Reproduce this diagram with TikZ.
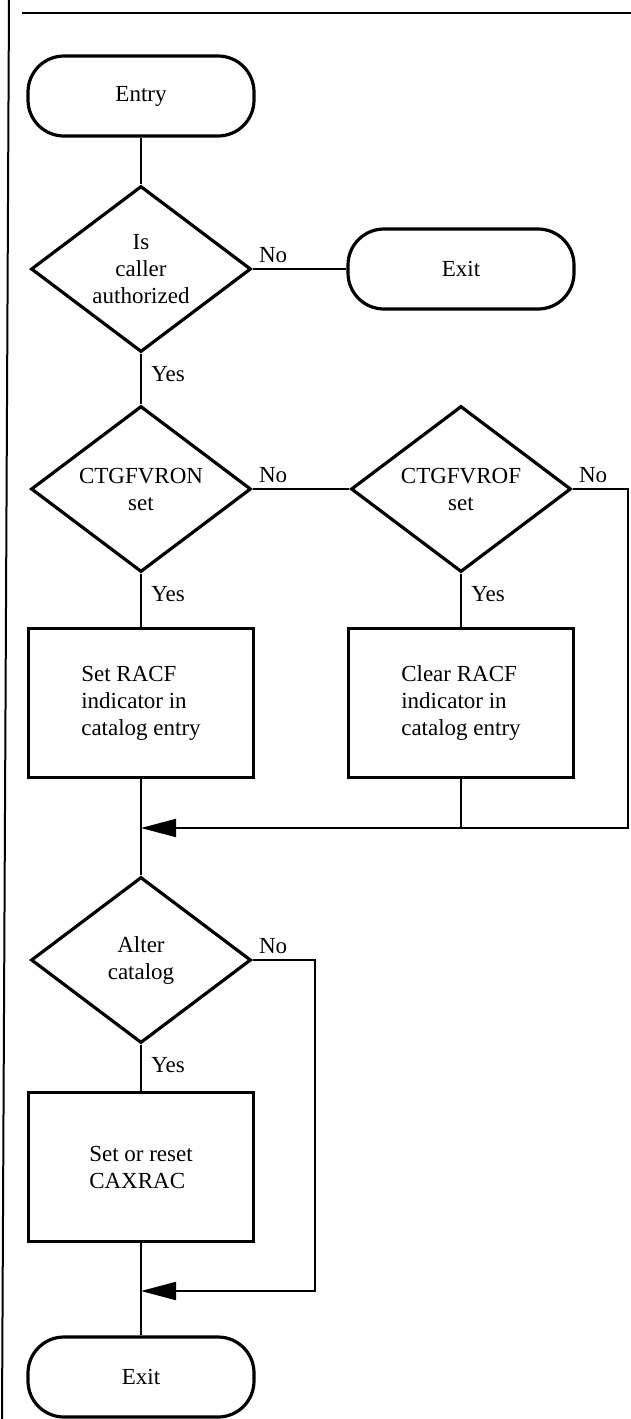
\documentclass[tikz,border=0pt]{standalone}
\usepackage{fontspec}
\setmainfont{Liberation Serif}
\usetikzlibrary{arrows.meta,shapes.geometric}

\begin{document}
\begin{tikzpicture}[x=0.5pt, y=-0.5pt,
		every node/.style={font=\fontsize{11.5}{13.5}\selectfont},
		term/.style={draw, line width=1.6pt, rounded corners=18pt, minimum width=113pt, minimum height=40pt},
		decision/.style={draw, diamond, aspect=1.3, inner sep=0pt, line width=1.6pt, minimum width=110pt, minimum height=83pt, align=center},
		process/.style={draw, line width=1.6pt, minimum width=112.5pt, minimum height=74.5pt, align=left},
		lbl/.style={inner sep=3pt},
		flow/.style={line width=1pt},
		backflow/.style={flow, -{Triangle[length=17.5pt, width=9pt]}}]
			\useasboundingbox (0,0) rectangle (631,1419);

			% page frame
			\draw[line width=1pt] (9,0) -- (2,1419);
			\draw[line width=1pt] (22,13) -- (631,13);

			\node[term]     (entry) at (141,   96)  {Entry};
			\node[decision] (q1)    at (141,  269)  {Is\\caller\\authorized};
			\node[term]     (exit1) at (461,  269)  {Exit};
			\node[decision] (q2)    at (141,  489)  {CTGFVRON\\set};
			\node[decision] (q3)    at (461,  489)  {CTGFVROF\\set};
			\node[process]  (set)   at (141,  703)  {Set RACF\\indicator in\\catalog entry};
			\node[process]  (clear) at (461,  703)  {Clear RACF\\indicator in\\catalog entry};
			\node[decision] (q4)    at (141,  960)  {Alter\\catalog};
			\node[process]  (cax)   at (141, 1167)  {Set or reset\\CAXRAC};
			\node[term]     (exit2) at (141, 1377)  {Exit};

			\coordinate (j1) at (141,  828);
			\coordinate (r1) at (628,  828);
			\coordinate (j2) at (141, 1291);
			\coordinate (r2) at (315, 1291);

			\def\down {entry/q1, q1/q2, q2/set, q3/clear, set/q4, q4/cax, cax/exit2}  % straight drops
			\foreach \u/\v in \down
			{	\draw[flow] (\u.south) -- (\v.north);
			}

			\draw[flow] (q1.east) -- (exit1.west);
			\draw[flow] (q2.east) -- (q3.west);
			\draw[flow] (clear.south) -- (clear.south |- j1);
			\draw[backflow] (q3.east) -| (r1) -- (j1);
			\draw[backflow] (q4.east) -| (r2) -- (j2);

			\foreach \q in {q1, q2, q3, q4}
			{	\node[lbl, anchor=south west] (\q-no) at (\q.east) {No};
				\node[lbl, anchor=north west, xshift=2pt, yshift=-3pt] (\q-yes) at (\q.south) {Yes};
			}
		\end{tikzpicture}
\end{document}
